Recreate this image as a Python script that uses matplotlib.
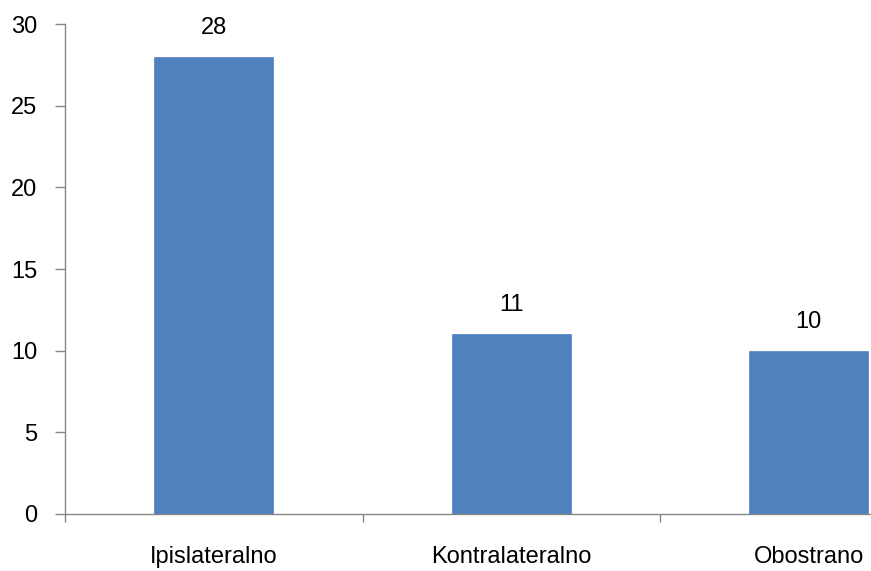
import numpy as np
import matplotlib
matplotlib.use('Agg')
import matplotlib.pyplot as plt

categories = ['Ipislateralno', 'Kontralateralno', 'Obostrano']
values = [28, 11, 10]

plt.rcParams['font.family'] = ['Liberation Sans', 'DejaVu Sans']

W, H = 871, 571
fig = plt.figure(figsize=(W / 100, H / 100), dpi=100)
left, right = 65, 957.5
top, bottom = 24, 514
ax = fig.add_axes([left / W, (H - bottom) / H, (right - left) / W, (bottom - top) / H])

x = np.arange(len(categories))
bars = ax.bar(x, values, width=0.4, color='#4F81BD', edgecolor='#4F81BD', linewidth=0.5)

ax.set_xlim(-0.5, len(categories) - 0.5)
ax.set_ylim(0, 30)
ax.set_yticks(np.arange(0, 31, 5))
ax.set_xticks(x)
ax.set_xticklabels(categories)
ax.set_xticks(np.arange(-0.5, len(categories), 1), minor=True)
ax.tick_params(axis='x', which='major', length=0, pad=23, labelsize=17)
ax.tick_params(axis='x', which='minor', length=6, color='#868686', width=1, direction='out')
ax.tick_params(axis='y', length=7, color='#868686', width=1, pad=13, labelsize=17)

for s in ['top', 'right']:
    ax.spines[s].set_visible(False)
for s in ['left', 'bottom']:
    ax.spines[s].set_color('#868686')
    ax.spines[s].set_linewidth(1)

for b, v in zip(bars, values):
    ax.annotate(str(v), (b.get_x() + b.get_width() / 2, v), xytext=(0, 13),
                textcoords='offset points', ha='center', va='bottom', fontsize=17)

fig.savefig('out.png', dpi=100)
